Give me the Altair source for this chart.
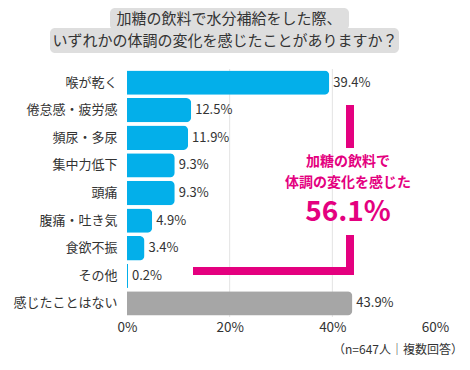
import altair as alt
import pandas as pd

categories = ["喉が乾く", "倦怠感・疲労感", "頻尿・多尿", "集中力低下", "頭痛",
              "腹痛・吐き気", "食欲不振", "その他", "感じたことはない"]
values = [39.4, 12.5, 11.9, 9.3, 9.3, 4.9, 3.4, 0.2, 43.9]
groups = ["yes"] * 8 + ["no"]
x_ticks = [0, 20, 40, 60]
grid_at = [20, 40]

title_lines = ["加糖の飲料で水分補給をした際、", "いずれかの体調の変化を感じたことがありますか？"]
note_lines = ["加糖の飲料で", "体調の変化を感じた"]
note_value = "56.1%"
footer = "（n=647人｜複数回答）"

FONT = "Noto Sans CJK JP"
BLUE = "#03afea"
GRAY = "#a6a6a6"
MAGENTA = "#e4007f"

df = pd.DataFrame({"cat": categories, "value": values, "group": groups})
gdf = pd.DataFrame({"g": grid_at})

W, H = 308, 248

y_enc = alt.Y("cat:N", sort=categories, title=None,
              scale=alt.Scale(paddingInner=0.12, paddingOuter=0.05),
              axis=alt.Axis(ticks=False, domain=False, labelFontSize=13,
                            labelColor="#333333", labelPadding=10, labelFont=FONT))
x_scale = alt.Scale(domain=[0, 60], nice=False)
x_enc = alt.X("value:Q", title=None, scale=x_scale,
              axis=alt.Axis(values=x_ticks, labelExpr="datum.value + '%'", ticks=False,
                            domain=False, grid=False, labelFlush=False,
                            labelFontSize=13.5, labelColor="#333333", labelPadding=3,
                            labelFont=FONT))

grid = alt.Chart(gdf).mark_rule(color="#e3e3e3", strokeWidth=1).encode(
    x=alt.X("g:Q", scale=x_scale))

bars = alt.Chart(df).mark_bar(cornerRadiusEnd=5).encode(
    x=x_enc, y=y_enc,
    color=alt.Color("group:N", scale=alt.Scale(domain=["yes", "no"], range=[BLUE, GRAY]),
                    legend=None),
)

labels = alt.Chart(df).transform_calculate(
    lab="format(datum.value, '.1f') + '%'"
).mark_text(align="left", dx=4, fontSize=13, color="#333333", font=FONT).encode(
    x="value:Q", y=alt.Y("cat:N", sort=categories), text="lab:N"
)

one = df.head(1)

tb1 = alt.Chart(one).mark_rect(color="#dedede", cornerRadius=5).encode(
    x=alt.value(-17), x2=alt.value(222), y=alt.value(-61), y2=alt.value(-39))
tb2 = alt.Chart(one).mark_rect(color="#dedede", cornerRadius=5).encode(
    x=alt.value(-77), x2=alt.value(272), y=alt.value(-41), y2=alt.value(-16))
tt1 = alt.Chart(one).mark_text(fontSize=15, color="#333333", font=FONT).encode(
    x=alt.value(102), y=alt.value(-50), text=alt.value(title_lines[0]))
tt2 = alt.Chart(one).mark_text(fontSize=15, color="#333333", font=FONT).encode(
    x=alt.value(98), y=alt.value(-28), text=alt.value(title_lines[1]))


def rect(x1, x2, y1, y2):
    return alt.Chart(one).mark_rect(color=MAGENTA).encode(
        x=alt.value(x1), x2=alt.value(x2), y=alt.value(y1), y2=alt.value(y2))


br1 = rect(219, 227, 36, 79)
br2 = rect(219, 227, 166, 206)
br3 = rect(66, 227, 198, 206)

n1 = alt.Chart(one).mark_text(fontSize=14, fontWeight="bold", color=MAGENTA, font=FONT).encode(
    x=alt.value(221), y=alt.value(93), text=alt.value(note_lines[0]))
n2 = alt.Chart(one).mark_text(fontSize=14, fontWeight="bold", color=MAGENTA, font=FONT).encode(
    x=alt.value(221), y=alt.value(114), text=alt.value(note_lines[1]))
n3 = alt.Chart(one).mark_text(fontSize=28, fontWeight="bold", color=MAGENTA, font=FONT).encode(
    x=alt.value(221), y=alt.value(144), text=alt.value(note_value))

ft = alt.Chart(one).mark_text(fontSize=12, color="#333333", align="right", font=FONT).encode(
    x=alt.value(336), y=alt.value(281), text=alt.value(footer))

chart = alt.layer(grid, bars, labels, tb1, tb2, tt1, tt2, br1, br2, br3, n1, n2, n3, ft).properties(
    width=W, height=H,
    autosize=alt.AutoSizeParams(type="none"),
    padding={"left": 119, "top": 61, "right": 27, "bottom": 45},
    background="white",
).configure_view(stroke=None)

chart.save("out.html", embed_options={"renderer": "svg", "actions": False})
